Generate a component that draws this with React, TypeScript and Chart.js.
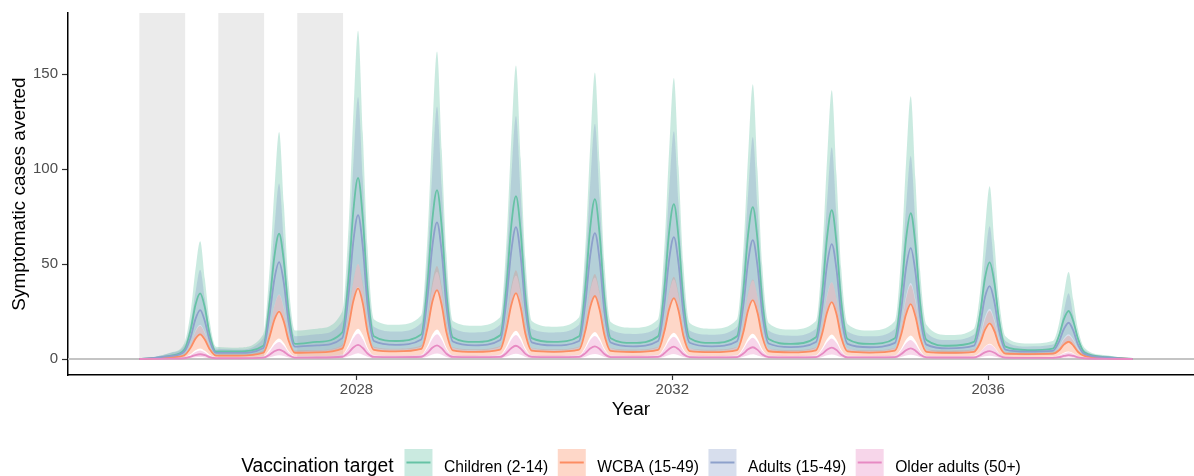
import { useEffect, useRef } from "react";
import { Chart, registerables } from "chart.js";

Chart.register(...registerables);

const FONT = '"Liberation Sans", Arial, Helvetica, sans-serif';

// Decimal years (shared x positions for every series)
const years = [
  2025.25, 2025.45, 2025.65,
  2025.82, 2025.90, 2025.96, 2026.02, 2026.08, 2026.14, 2026.22, 2026.50,
  2026.82, 2026.90, 2026.96, 2027.02, 2027.08, 2027.14, 2027.22, 2027.50,
  2027.82, 2027.90, 2027.96, 2028.02, 2028.08, 2028.14, 2028.22, 2028.50,
  2028.82, 2028.90, 2028.96, 2029.02, 2029.08, 2029.14, 2029.22, 2029.50,
  2029.82, 2029.90, 2029.96, 2030.02, 2030.08, 2030.14, 2030.22, 2030.50,
  2030.82, 2030.90, 2030.96, 2031.02, 2031.08, 2031.14, 2031.22, 2031.50,
  2031.82, 2031.90, 2031.96, 2032.02, 2032.08, 2032.14, 2032.22, 2032.50,
  2032.82, 2032.90, 2032.96, 2033.02, 2033.08, 2033.14, 2033.22, 2033.50,
  2033.82, 2033.90, 2033.96, 2034.02, 2034.08, 2034.14, 2034.22, 2034.50,
  2034.82, 2034.90, 2034.96, 2035.02, 2035.08, 2035.14, 2035.22, 2035.50,
  2035.82, 2035.90, 2035.96, 2036.02, 2036.08, 2036.14, 2036.22, 2036.50,
  2036.82, 2036.90, 2036.96, 2037.02, 2037.08, 2037.14, 2037.22, 2037.50,
  2037.83,
];

// Children (2-14)
const childrenMid = [
  0, 0.6, 1.8,
  5, 15.5, 28.5, 34.6, 27, 13, 4, 4,
  7, 30, 54, 66, 51.5, 25, 8, 9,
  14, 43, 78, 95.4, 74, 36, 12, 9.5,
  13, 40, 73, 89, 69.5, 34, 11.5, 9,
  12.5, 38.5, 70, 85.8, 67, 32.5, 11, 9,
  12, 38, 69, 84.2, 65.5, 32, 11, 8.5,
  12, 37, 67, 81.6, 63.5, 31, 11, 8.5,
  12, 36, 65.5, 80, 62.5, 30.5, 10.5, 8,
  11.5, 35, 64, 78.4, 61, 30, 10.5, 8,
  11, 34.5, 63, 76.8, 60, 29, 10, 7,
  9, 24, 42.5, 50.9, 40, 20, 6.5, 4.7,
  5.5, 12.5, 21, 25.3, 19.8, 10.5, 3.5, 1,
  0,
];
const childrenLow = [
  0, 0.3, 1,
  2.5, 8, 14.8, 18, 14, 6.8, 2, 2,
  3.6, 15.6, 28, 34, 26.8, 13, 4, 4.5,
  7, 22.4, 40.5, 50, 38.5, 18.7, 6, 5,
  6.5, 20.8, 38, 46, 36, 17.7, 6, 4.7,
  6.5, 20, 36.4, 44, 34.8, 17, 5.7, 4.7,
  6.2, 19.8, 35.9, 43, 34, 16.6, 5.7, 4.4,
  6.2, 19.2, 34.8, 42, 33, 16.1, 5.7, 4.4,
  6.2, 18.7, 34, 41.5, 32.5, 15.9, 5.5, 4.2,
  6, 18.2, 33.3, 40.5, 31.7, 15.6, 5.5, 4.2,
  5.7, 17.9, 32.8, 40, 31.2, 15.1, 5.2, 3.6,
  4.7, 12.5, 22, 26.5, 20.8, 10.4, 3.4, 2.4,
  2.9, 6.5, 10.9, 13, 10.3, 5.5, 1.8, 0.5,
  0,
];
const childrenHigh = [
  0, 1.2, 3.5,
  8.5, 25, 47, 62, 42, 20, 6.5, 6,
  13, 47.5, 89, 119.6, 81.5, 40, 15, 16,
  25, 70, 129, 173, 119, 59, 21, 18,
  23, 65, 121, 162, 110, 55, 20, 17.5,
  22, 62.5, 115.5, 154.7, 105.5, 52.5, 20, 17,
  22, 60, 112, 151, 103.5, 51, 19.5, 16.5,
  21, 59, 110, 148, 101, 50, 19, 16,
  21, 57.5, 107, 144.7, 99, 49, 19, 15.5,
  20, 56, 105, 141.6, 97, 47.5, 18.5, 15,
  20, 55, 103, 138.4, 94.5, 46, 18, 12.6,
  16, 36, 68, 91, 61.5, 31, 12, 8.2,
  9.5, 19, 34, 45.8, 31, 15.5, 6, 2,
  0,
];

// WCBA (15-49)
const wcbaMid = [
  0, 0.3, 0.9,
  2, 6, 10.7, 13, 10.1, 5.2, 1.8, 1.8,
  3.3, 11.8, 20.7, 25, 19.6, 9.8, 3.3, 3.5,
  5.5, 17.3, 30.5, 37.2, 29.3, 14.3, 4.8, 4,
  5.3, 16.5, 30, 36.3, 28.2, 13.9, 4.6, 3.8,
  5, 15.8, 28.3, 34.7, 27, 13.2, 4.4, 3.8,
  4.9, 15.1, 27.3, 33.2, 25.9, 12.7, 4.3, 3.7,
  4.8, 14.6, 26.2, 32.1, 25.3, 12.3, 4.2, 3.6,
  4.7, 14.1, 25.6, 31, 24.2, 11.8, 4.1, 3.5,
  4.6, 13.7, 24.5, 30, 23.6, 11.5, 4, 3.4,
  4.4, 13.1, 23.4, 28.9, 22.4, 11.1, 3.8, 3.3,
  3.8, 8.6, 15.3, 18.8, 14.7, 7.2, 2.8, 2.6,
  2.8, 4.6, 7.6, 9.1, 7.1, 3.7, 1.6, 0.5,
  0,
];
const wcbaLow = [
  0, 0.1, 0.4,
  0.9, 2.6, 4.6, 5.6, 4.3, 2.2, 0.8, 0.8,
  1.4, 5.1, 8.9, 10.8, 8.4, 4.2, 1.4, 1.5,
  2.4, 7.4, 13.1, 16, 12.6, 6.1, 2.1, 1.7,
  2.3, 7.1, 12.9, 15.6, 12.1, 6, 2, 1.6,
  2.2, 6.8, 12.2, 14.9, 11.6, 5.7, 1.9, 1.6,
  2.1, 6.5, 11.7, 14.3, 11.1, 5.5, 1.8, 1.6,
  2.1, 6.3, 11.3, 13.8, 10.9, 5.3, 1.8, 1.5,
  2, 6.1, 11, 13.3, 10.4, 5.1, 1.8, 1.5,
  2, 5.9, 10.5, 12.9, 10.1, 4.9, 1.7, 1.5,
  1.9, 5.6, 10.1, 12.4, 9.6, 4.8, 1.6, 1.4,
  1.6, 3.7, 6.6, 8.1, 6.3, 3.1, 1.2, 1.1,
  1.2, 2, 3.3, 3.9, 3.1, 1.6, 0.7, 0.2,
  0,
];
const wcbaHigh = [
  0, 0.4, 1.2,
  2.7, 8.1, 14.4, 17.5, 13.6, 7, 2.4, 2.4,
  4.5, 15.9, 27.9, 33.8, 26.5, 13.2, 4.5, 4.7,
  7.4, 23.4, 41.2, 50, 39.6, 19.3, 6.5, 5.4,
  7.2, 22.3, 40.5, 49, 38.1, 18.8, 6.2, 5.1,
  6.8, 21.3, 38.2, 46.8, 36.5, 17.8, 5.9, 5.1,
  6.6, 20.4, 36.9, 44.8, 35, 17.1, 5.8, 5,
  6.5, 19.7, 35.4, 43.3, 34.2, 16.6, 5.7, 4.9,
  6.3, 19, 34.6, 41.9, 32.7, 15.9, 5.5, 4.7,
  6.2, 18.5, 33.1, 40.5, 31.9, 15.5, 5.4, 4.6,
  5.9, 17.7, 31.6, 39, 30.2, 15, 5.1, 4.5,
  5.1, 11.6, 20.7, 25.4, 19.8, 9.7, 3.8, 3.5,
  3.8, 6.2, 10.3, 12.3, 9.6, 5, 2.2, 0.7,
  0,
];

// Adults (15-49)
const adultsMid = [
  0, 0.6, 1.6,
  4, 11.5, 21, 25.8, 19.8, 9.8, 3.2, 3.2,
  5.8, 23.5, 42, 51, 40, 19.5, 6.5, 7.2,
  11, 34, 62, 75.8, 59, 28.5, 9.5, 7.5,
  10.3, 32.5, 59, 72, 56, 27.5, 9.2, 7.2,
  10, 31.3, 56.7, 69.5, 54, 26.4, 8.8, 7.2,
  9.5, 30, 54.2, 66.3, 51.8, 25, 8.7, 6.7,
  9.5, 28.8, 52.4, 64.2, 50, 24.3, 8.6, 6.7,
  9.4, 28.2, 51.2, 62.6, 48.7, 23.7, 8.2, 6.3,
  9, 27.3, 49.6, 60.5, 47.2, 22.8, 8, 6.2,
  8.5, 26.4, 47.8, 58.4, 45.6, 22.1, 7.6, 5.6,
  7, 18.5, 32.5, 38.4, 30, 15, 5, 3.9,
  4.3, 9.3, 15.8, 19.1, 14.8, 7.5, 2.7, 0.8,
  0,
];
const adultsLow = [
  0, 0.3, 0.8,
  2, 5.8, 10.5, 13, 9.9, 4.9, 1.6, 1.6,
  3, 11.7, 21, 25.5, 20, 9.8, 3.3, 3.6,
  5.5, 17, 31, 38, 29.5, 14.3, 4.8, 3.8,
  5.2, 16.3, 29.5, 36, 28, 13.8, 4.6, 3.6,
  5, 15.7, 28.4, 35, 27, 13.2, 4.4, 3.6,
  4.8, 15, 27.1, 33, 25.9, 12.5, 4.3, 3.4,
  4.8, 14.4, 26.2, 32, 25, 12.2, 4.3, 3.4,
  4.7, 14.1, 25.6, 31.3, 24.4, 11.9, 4.1, 3.2,
  4.5, 13.7, 24.8, 30.3, 23.6, 11.4, 4, 3.1,
  4.3, 13.2, 23.9, 29.2, 22.8, 11.1, 3.8, 2.8,
  3.5, 9.3, 16.3, 19.2, 15, 7.5, 2.5, 2,
  2.2, 4.7, 7.9, 9.6, 7.4, 3.8, 1.4, 0.4,
  0,
];
const adultsHigh = [
  0, 1.2, 3.2,
  7, 19.4, 35, 47, 31.9, 15.6, 5.5, 5,
  11, 37.5, 69, 92.5, 62.7, 31.3, 12, 13,
  20, 55, 103, 138, 94.6, 46.3, 17, 14.5,
  19, 53.8, 98.6, 133, 90.2, 45, 16.5, 14,
  18, 51.3, 95.4, 128, 86.9, 43.8, 16, 14,
  18, 50, 92.2, 124, 84.7, 41.3, 15.5, 13.2,
  17, 47.5, 89, 120, 81.4, 40, 15, 12.8,
  17, 46.3, 86.9, 117, 79.2, 39.4, 15, 12.3,
  16, 45, 82.7, 111.6, 75.9, 37.5, 14.5, 12,
  16, 42.5, 79.5, 107, 72.6, 36.3, 14, 10,
  12.8, 27.5, 52, 70, 47.3, 23.8, 9.5, 6.6,
  7.6, 13.8, 25.4, 34.6, 23.1, 11.9, 4.8, 1.6,
  0,
];

// Older adults (50+)
const olderMid = [
  0, 0.1, 0.2,
  0.4, 1.2, 2.1, 2.5, 2, 1, 0.4, 0.4,
  0.7, 2.3, 4.1, 5, 3.9, 2, 0.7, 0.8,
  1.2, 3.4, 6.1, 7.4, 5.8, 2.9, 1.1, 1,
  1.2, 3.3, 5.9, 7.2, 5.6, 2.8, 1.1, 1,
  1.1, 3.2, 5.7, 7, 5.5, 2.7, 1.1, 1,
  1.1, 3.1, 5.5, 6.7, 5.3, 2.6, 1, 1,
  1.1, 3, 5.3, 6.5, 5.1, 2.5, 1, 0.9,
  1, 2.9, 5.1, 6.2, 4.8, 2.4, 1, 0.9,
  1, 2.8, 4.9, 6, 4.7, 2.3, 0.9, 0.9,
  1, 2.6, 4.6, 5.6, 4.4, 2.2, 0.9, 0.8,
  0.8, 2, 3.5, 4.2, 3.3, 1.7, 0.7, 0.6,
  0.6, 1, 1.6, 2, 1.6, 0.85, 0.4, 0.1,
  0,
];
const olderLow = [
  0, 0, 0.1,
  0.2, 0.5, 0.9, 1, 0.8, 0.4, 0.2, 0.2,
  0.3, 0.9, 1.6, 2, 1.6, 0.8, 0.3, 0.3,
  0.5, 1.4, 2.4, 3, 2.3, 1.2, 0.4, 0.4,
  0.5, 1.3, 2.4, 2.9, 2.3, 1.1, 0.4, 0.4,
  0.4, 1.3, 2.3, 2.8, 2.2, 1.1, 0.4, 0.4,
  0.4, 1.2, 2.2, 2.7, 2.1, 1, 0.4, 0.4,
  0.4, 1.2, 2.1, 2.6, 2, 1, 0.4, 0.4,
  0.4, 1.2, 2, 2.5, 1.9, 1, 0.4, 0.4,
  0.4, 1.1, 2, 2.4, 1.9, 0.9, 0.4, 0.4,
  0.4, 1, 1.8, 2.2, 1.8, 0.9, 0.4, 0.3,
  0.3, 0.8, 1.4, 1.7, 1.3, 0.7, 0.3, 0.2,
  0.2, 0.4, 0.65, 0.8, 0.65, 0.35, 0.2, 0,
  0,
];
const olderHigh = [
  0, 0.2, 0.4,
  0.7, 2.1, 3.7, 4.5, 3.5, 1.8, 0.7, 0.7,
  1.3, 4.1, 7.4, 9, 7, 3.6, 1.3, 1.4,
  2.2, 6.2, 10.9, 13.5, 10.4, 5.2, 2, 1.8,
  2.2, 6, 10.6, 13, 10.1, 5, 2, 1.8,
  2, 5.7, 10.2, 12.6, 9.8, 4.8, 2, 1.8,
  2, 5.5, 10, 12.1, 9.5, 4.7, 1.8, 1.8,
  2, 5.4, 9.6, 11.7, 9.1, 4.5, 1.8, 1.6,
  1.8, 5.2, 9.2, 11.2, 8.7, 4.3, 1.8, 1.6,
  1.8, 5, 8.8, 10.8, 8.4, 4.2, 1.6, 1.6,
  1.8, 4.7, 8.3, 10, 7.8, 4, 1.6, 1.4,
  1.4, 3.5, 6.3, 7.6, 6, 3, 1.3, 1.1,
  1.1, 1.8, 2.9, 3.6, 2.8, 1.6, 0.7, 0.2,
  0,
];

const seriesNames = ["Children (2-14)", "WCBA (15-49)", "Adults (15-49)", "Older adults (50+)"];
const seriesColors = ["#66c2a5", "#fc8d62", "#8da0cb", "#e78ac3"];
const seriesMid = [childrenMid, wcbaMid, adultsMid, olderMid];
const seriesLow = [childrenLow, wcbaLow, adultsLow, olderLow];
const seriesHigh = [childrenHigh, wcbaHigh, adultsHigh, olderHigh];

const legendTitle = "Vaccination target";
const xTitle = "Year";
const yTitle = "Symptomatic cases averted";

const shadeStart = [2025.25, 2026.25, 2027.25];
const shadeEnd = [2025.83, 2026.83, 2027.83];

const xTickValues = [2028, 2032, 2036];
const yTickValues = [0, 50, 100, 150];

function rgba(hex: string, a: number) {
  const r = parseInt(hex.slice(1, 3), 16);
  const g = parseInt(hex.slice(3, 5), 16);
  const b = parseInt(hex.slice(5, 7), 16);
  return `rgba(${r},${g},${b},${a})`;
}

function toPoints(arr: number[]) {
  return years.map((x, i) => ({ x, y: arr[i] }));
}

const BAND_ALPHA = 0.35;

const backgroundPlugin = {
  id: "bgShading",
  beforeDatasetsDraw(chart: any) {
    const { ctx, chartArea, scales } = chart;
    const x = scales.x;
    const y = scales.y;
    const y0 = y.getPixelForValue(0);
    ctx.save();
    ctx.fillStyle = "#ebebeb";
    shadeStart.forEach((s, i) => {
      const x1 = x.getPixelForValue(s);
      const x2 = x.getPixelForValue(shadeEnd[i]);
      ctx.fillRect(x1, chartArea.top, x2 - x1, y0 - chartArea.top);
    });
    ctx.strokeStyle = "#c4c4c4";
    ctx.lineWidth = 1.8;
    ctx.beginPath();
    ctx.moveTo(chartArea.left, y0);
    ctx.lineTo(chartArea.right, y0);
    ctx.stroke();
    ctx.restore();
  },
};

function drawScaledText(ctx: any, text: string, x: number, y: number, size: number, sx: number) {
  ctx.save();
  ctx.translate(x, y);
  ctx.scale(sx, 1);
  ctx.font = `${size}px ${FONT}`;
  ctx.fillText(text, 0, 0);
  ctx.restore();
}

const legendPlugin = {
  id: "customLegend",
  afterDraw(chart: any) {
    const ctx = chart.ctx;
    const area = chart.chartArea;
    ctx.save();
    const titleSize = 20;
    const titleSx = 0.96;
    const itemSize = 17;
    const itemSx = 0.92;
    ctx.font = `${titleSize}px ${FONT}`;
    const titleW = ctx.measureText(legendTitle).width * titleSx;
    ctx.font = `${itemSize}px ${FONT}`;
    const itemWs = seriesNames.map((n) => ctx.measureText(n).width * itemSx);
    const keyW = 28;
    const keyH = 27;
    const gapTitle = 11;
    const gapKey = 11.5;
    const gapItem = 9.5;
    const total =
      titleW + gapTitle + itemWs.reduce((a, w) => a + keyW + gapKey + w, 0) + gapItem * (seriesNames.length - 1);
    let x = (area.left + area.right) / 2 - total / 2;
    const baseline = 471.5;
    const keyTop = 449;
    const keyMid = 462.5;
    ctx.textAlign = "left";
    ctx.textBaseline = "alphabetic";
    ctx.fillStyle = "#000000";
    drawScaledText(ctx, legendTitle, x, baseline, titleSize, titleSx);
    x += titleW + gapTitle;
    seriesNames.forEach((n, i) => {
      ctx.fillStyle = rgba(seriesColors[i], BAND_ALPHA);
      ctx.fillRect(x, keyTop, keyW, keyH);
      ctx.strokeStyle = seriesColors[i];
      ctx.lineWidth = 2;
      ctx.beginPath();
      ctx.moveTo(x + 2, keyMid);
      ctx.lineTo(x + keyW - 2, keyMid);
      ctx.stroke();
      x += keyW + gapKey;
      ctx.fillStyle = "#000000";
      drawScaledText(ctx, n, x, baseline, itemSize, itemSx);
      x += itemWs[i] + gapItem;
    });
    ctx.restore();
  },
};

export default function App() {
  const canvasRef = useRef<HTMLCanvasElement | null>(null);

  useEffect(() => {
    document.body.style.margin = "0";
    const canvas = canvasRef.current;
    if (!canvas) return;

    const datasets: any[] = [];
    // ribbons (lower + upper filled to lower)
    seriesNames.forEach((name, k) => {
      const order = 100 - k * 10;
      datasets.push({
        label: name + " lower",
        data: toPoints(seriesLow[k]),
        borderWidth: 0,
        borderColor: "rgba(0,0,0,0)",
        pointRadius: 0,
        pointHoverRadius: 0,
        fill: false,
        order,
      });
      datasets.push({
        label: name + " upper",
        data: toPoints(seriesHigh[k]),
        borderWidth: 0,
        borderColor: "rgba(0,0,0,0)",
        backgroundColor: rgba(seriesColors[k], BAND_ALPHA),
        pointRadius: 0,
        pointHoverRadius: 0,
        fill: "-1",
        order,
      });
    });
    // median lines
    seriesNames.forEach((name, k) => {
      datasets.push({
        label: name,
        data: toPoints(seriesMid[k]),
        borderColor: seriesColors[k],
        borderWidth: 1.8,
        pointRadius: 0,
        pointHoverRadius: 0,
        fill: false,
        order: 40 - k * 10,
      });
    });

    const chart = new Chart(canvas, {
      type: "line",
      data: { datasets },
      options: {
        animation: false,
        responsive: false,
        maintainAspectRatio: false,
        devicePixelRatio: 1,
        events: [],
        layout: { padding: { left: 0, right: 0, top: 12.7, bottom: 0 } },
        elements: {
          line: { cubicInterpolationMode: "monotone" },
          point: { radius: 0 },
        },
        plugins: {
          legend: { display: false },
          tooltip: { enabled: false },
        },
        scales: {
          x: {
            type: "linear",
            min: 2024.346,
            max: 2038.608,
            afterBuildTicks: (s: any) => {
              s.ticks = xTickValues.map((v) => ({ value: v }));
            },
            afterFit: (s: any) => {
              s.height = 101;
            },
            ticks: {
              autoSkip: false,
              maxRotation: 0,
              color: "#4d4d4d",
              padding: 1,
              font: { family: FONT, size: 15 },
              callback: (v: any) => String(v),
            },
            grid: {
              drawOnChartArea: false,
              drawTicks: true,
              tickLength: 5,
              color: "#333333",
              tickWidth: 1.2,
            },
            border: { display: true, color: "#000000", width: 1.5 },
            title: {
              display: true,
              text: xTitle,
              color: "#000000",
              font: { family: FONT, size: 19 },
              padding: { top: 0, bottom: 54.6 },
            },
          },
          y: {
            type: "linear",
            min: -8.42,
            max: 182.3,
            afterBuildTicks: (s: any) => {
              s.ticks = yTickValues.map((v) => ({ value: v }));
            },
            afterFit: (s: any) => {
              s.width = 68;
            },
            ticks: {
              color: "#4d4d4d",
              padding: 4,
              font: { family: FONT, size: 15 },
              callback: (v: any) => String(v),
            },
            grid: {
              drawOnChartArea: false,
              drawTicks: true,
              tickLength: 6,
              color: "#333333",
              tickWidth: 1.2,
            },
            border: { display: true, color: "#000000", width: 1.5 },
            title: {
              display: true,
              text: yTitle,
              color: "#000000",
              font: { family: FONT, size: 19 },
              padding: { top: 8, bottom: 0 },
            },
          },
        },
      } as any,
      plugins: [backgroundPlugin, legendPlugin],
    });

    return () => {
      chart.destroy();
    };
  }, []);

  return (
    <div style={{ width: 1194, height: 476, position: "relative" }}>
      <canvas ref={canvasRef} width={1194} height={476} style={{ display: "block" }} />
    </div>
  );
}
